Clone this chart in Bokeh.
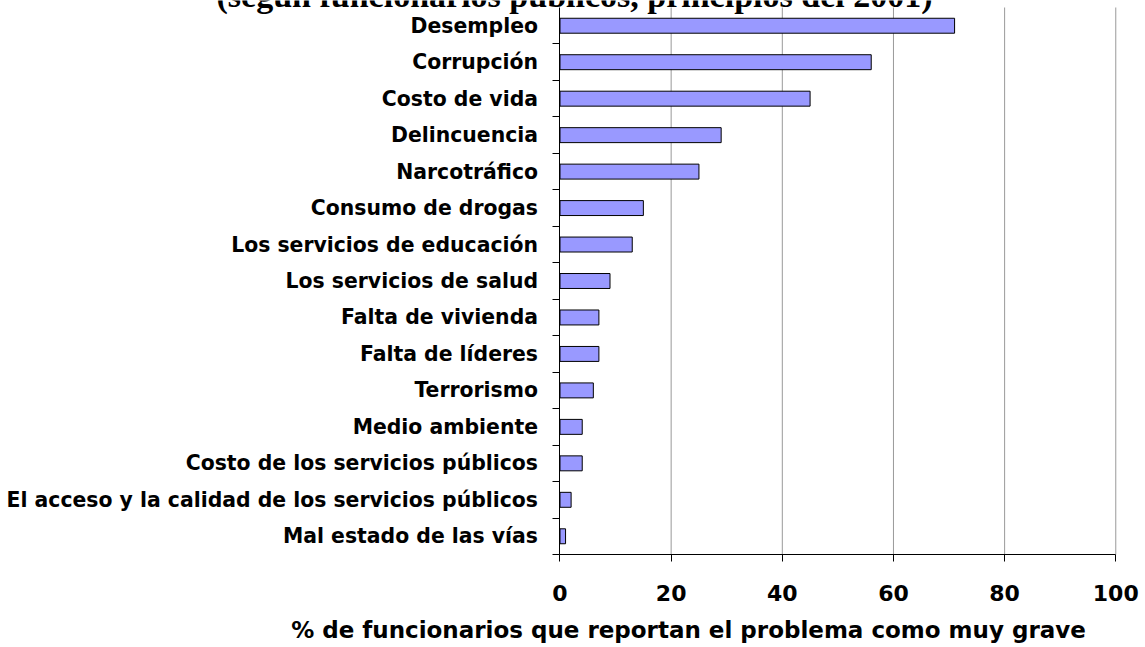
from bokeh.plotting import figure
from bokeh.models import Range1d, FixedTicker, Label
from bokeh.embed import file_html
from bokeh.resources import INLINE

categories = ["Desempleo", "Corrupción", "Costo de vida", "Delincuencia", "Narcotráfico",
              "Consumo de drogas", "Los servicios de educación", "Los servicios de salud",
              "Falta de vivienda", "Falta de líderes", "Terrorismo", "Medio ambiente",
              "Costo de los servicios públicos",
              "El acceso y la calidad de los servicios públicos", "Mal estado de las vías"]
values = [71, 56, 45, 29, 25, 15, 13, 9, 7, 7, 6, 4, 4, 2, 1]
x_ticks = [0, 20, 40, 60, 80, 100]
title_text = "(según funcionarios públicos, principios del 2001)"
x_title = "% de funcionarios que reportan el problema como muy grave"

n = len(categories)
ys = list(range(n))[::-1]
boundaries = [i - 0.5 for i in range(n)]
y_lo, y_hi = -0.5, n - 0.5

W, H = 1144, 647
# frame fills the canvas; axes are placed inside it
p = figure(width=W, height=H, output_backend="svg", toolbar_location=None,
           x_range=Range1d(-100.67, 105.17), y_range=Range1d(-3.050, 14.692),
           min_border_left=0, min_border_right=0, min_border_top=0, min_border_bottom=0)
p.outline_line_color = None
p.background_fill_color = "white"
p.border_fill_color = "white"
p.xgrid.grid_line_color = None
p.ygrid.grid_line_color = None

# vertical grid lines at the x ticks, over the category span
grid_x = x_ticks[1:]
p.segment(x0=grid_x, x1=grid_x, y0=[y_lo] * len(grid_x), y1=[y_hi] * len(grid_x),
          line_color="#999999", line_width=1)

p.hbar(y=ys, right=values, left=0, height=0.41, fill_color="#9999FF",
       line_color="black", line_width=1)

# x axis
xa = p.xaxis[0]
xa.fixed_location = y_lo
xa.bounds = (x_ticks[0], x_ticks[-1])
xa.ticker = FixedTicker(ticks=x_ticks)
xa.axis_line_color = "black"
xa.major_tick_out = 7
xa.major_tick_in = 0
xa.minor_tick_line_color = None
xa.major_label_text_font = "DejaVu Sans"
xa.major_label_text_font_style = "bold"
xa.major_label_text_font_size = "22px"
xa.major_label_text_color = "black"
xa.major_label_standoff = 23

# y axis
ya = p.yaxis[0]
ya.fixed_location = 0
ya.bounds = (y_lo, y_hi)
ya.ticker = FixedTicker(ticks=ys, minor_ticks=boundaries)
ya.major_label_overrides = {y: c for y, c in zip(ys, categories)}
ya.axis_line_color = "black"
ya.major_tick_out = 0
ya.major_tick_in = 0
ya.minor_tick_out = 7
ya.minor_tick_in = 0
ya.minor_tick_line_color = "black"
ya.major_label_text_font = "DejaVu Sans"
ya.major_label_text_font_style = "bold"
ya.major_label_text_font_size = "20.4px"
ya.major_label_text_color = "black"
ya.major_label_standoff = 15

p.add_layout(Label(x=2.61, y=14.83, text=title_text,
                   text_align="center", text_baseline="alphabetic",
                   text_font="Liberation Serif", text_font_style="bold",
                   text_font_size="34px", text_color="black"))
p.add_layout(Label(x=23.12, y=-2.563, text=x_title,
                   text_align="center", text_baseline="alphabetic",
                   text_font="DejaVu Sans", text_font_style="bold",
                   text_font_size="23px", text_color="black"))

open("out.html", "w").write(file_html(p, INLINE))
